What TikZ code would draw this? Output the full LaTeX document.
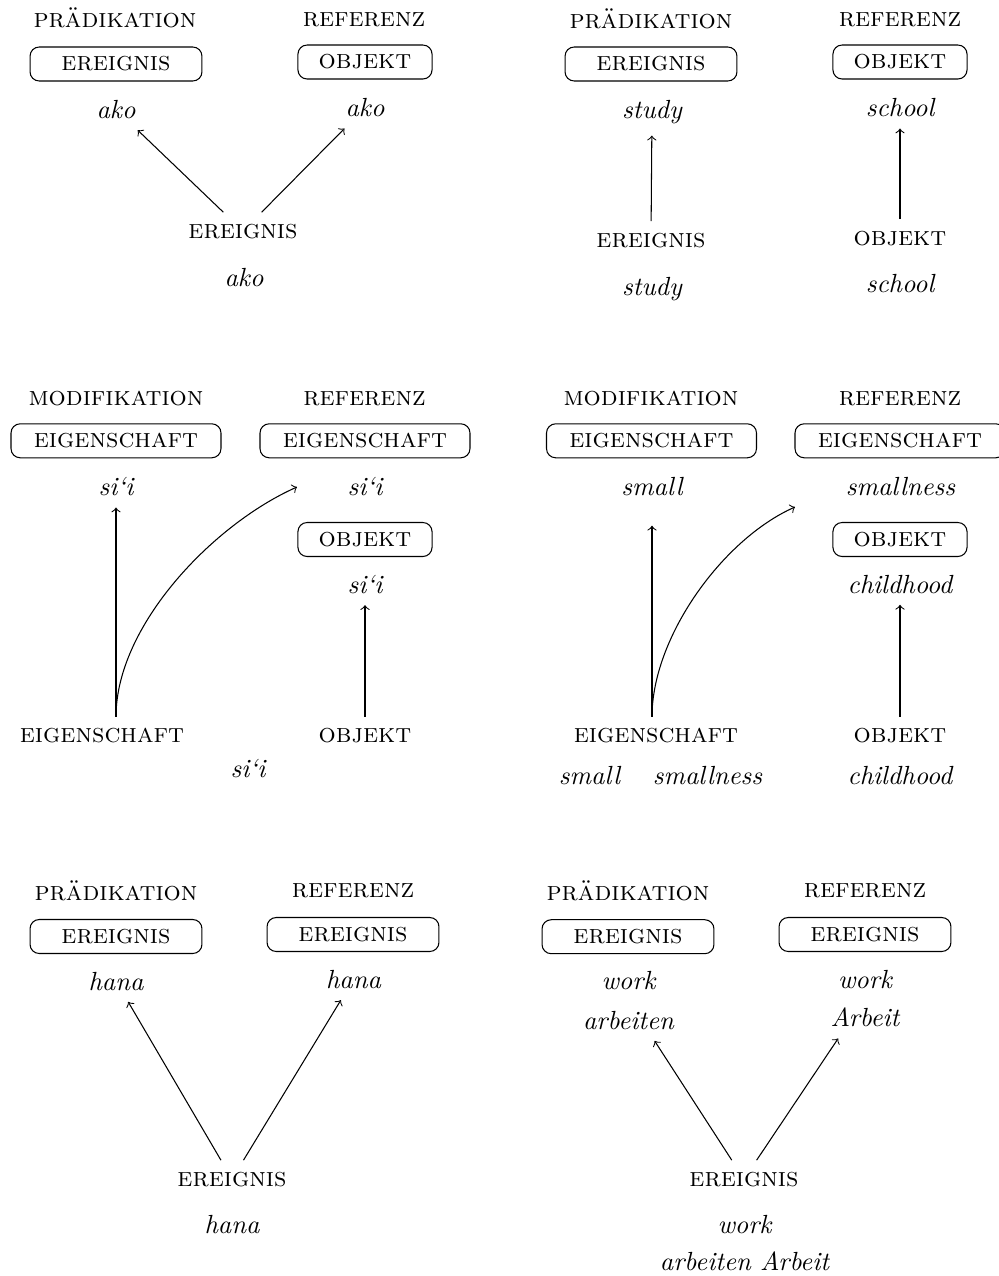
\documentclass[tikz,border=0pt]{standalone}
\usepackage{fontspec}
\begin{document}
\begin{tikzpicture}[x=0.381pt,y=-0.381pt,
  capsfont/.style={font=\fontsize{10.3}{12.4}\selectfont\scshape},
  catlbl/.style={capsfont, anchor=base, inner sep=4.2pt},
  wordlbl/.style={font=\itshape, anchor=base, inner sep=4.2pt},
  wordstack/.style={font=\itshape, align=center, inner sep=4.2pt},
  tagbox/.style={draw, rounded corners=3.5pt, capsfont, inner sep=0pt, minimum height=12.95pt},
  tagE/.style={tagbox, minimum width=65.5pt},
  tagO/.style={tagbox, minimum width=51.1pt},
  tagP/.style={tagbox, minimum width=80pt},
  link/.style={->, line width=0.4pt},
]
\useasboundingbox (0,0) rectangle (999,1276);

% ---- ako ----
\node[catlbl] (a-h1) at (115,27.3) {prädikation};
\node[catlbl] (a-h2) at (364,26.7) {referenz};
\node[tagE] (a-b1) at (116,64) {ereignis};
\node[tagO] (a-b2) at (365,62) {objekt};
\node[wordlbl] (a-w1) at (116,118.3) {ako};
\node[wordlbl] (a-w2) at (365,116.7) {ako};
\node[catlbl] (a-e) at (243,238) {ereignis};
\node[wordlbl] (a-w3) at (244,286) {ako};
\draw[link] (a-e) -- (a-w1);
\draw[link] (a-e) -- (a-w2);

% ---- study / school ----
\node[catlbl] (b-h1) at (651,28) {prädikation};
\node[catlbl] (b-h2) at (900,26.7) {referenz};
\node[tagE] (b-b1) at (651,64) {ereignis};
\node[tagO] (b-b2) at (900,62) {objekt};
\node[wordlbl] (b-w1) at (652,118.7) {study};
\node[wordlbl] (b-w2) at (900,116.7) {school};
\node[catlbl] (b-e1) at (651,247) {ereignis};
\node[catlbl] (b-e2) at (900,245) {objekt};
\node[wordlbl] (b-w3) at (652,295) {study};
\node[wordlbl] (b-w4) at (900,292.7) {school};
\draw[link] (b-e1) -- (b-w1);
\draw[link] (b-e2) -- (b-w2);

% ---- si'i ----
\node[catlbl] (c-h1) at (116,405) {modifikation};
\node[catlbl] (c-h2) at (364.5,405.7) {referenz};
\node[tagP] (c-b1) at (116,440.8) {eigenschaft};
\node[tagP] (c-b2) at (365,440.8) {eigenschaft};
\node[wordlbl] (c-w1) at (116,495.7) {si‘i};
\node[wordlbl] (c-w2) at (365,495.7) {si‘i};
\node[tagO] (c-b3) at (365,539.5) {objekt};
\node[wordlbl] (c-w3) at (365,593.3) {si‘i};
\node[catlbl] (c-e1) at (102,742.7) {eigenschaft};
\node[catlbl] (c-e2) at (365,742.7) {objekt};
\node[wordlbl] (c-w4) at (248,777.3) {si‘i};
\coordinate (c-t) at (297,487);
\draw[link] (c-e1.north -| c-w1) -- (c-w1);
\draw[link] (c-e1.north -| c-w1) .. controls +(0,-91.5) and +(-83.6,37.2) .. (c-t);
\draw[link] (c-e2) -- (c-w3);

% ---- small / smallness / childhood ----
\node[catlbl] (d-h1) at (651,405) {modifikation};
\node[catlbl] (d-h2) at (900,405.7) {referenz};
\node[tagP] (d-b1) at (651.5,440.8) {eigenschaft};
\node[tagP] (d-b2) at (900,440.8) {eigenschaft};
\node[wordlbl] (d-w1) at (652,495) {small};
\node[wordlbl] (d-w2) at (900.5,495) {smallness};
\node[tagO] (d-b3) at (900,539.5) {objekt};
\node[wordlbl] (d-w3) at (900,593) {childhood};
\node[catlbl] (d-e1) at (656,742.7) {eigenschaft};
\node[catlbl] (d-e2) at (900,742.7) {objekt};
\node[wordlbl] (d-w4) at (589.5,784) {small};
\node[wordlbl] (d-w5) at (707.5,784) {smallness};
\node[wordlbl] (d-w6) at (900,784) {childhood};
\coordinate (d-t) at (795,507);
\draw[link, shorten >=7.2pt] (d-e1.north -| d-w1) -- (d-w1);
\draw[link] (d-e1.north -| d-w1) .. controls +(0,-79.5) and +(-72.6,32.3) .. (d-t);
\draw[link] (d-e2) -- (d-w3);

% ---- hana ----
\node[catlbl] (e-h1) at (116,900) {prädikation};
\node[catlbl] (e-h2) at (353,897.3) {referenz};
\node[tagE] (e-b1) at (116,936.5) {ereignis};
\node[tagE] (e-b2) at (353,934.5) {ereignis};
\node[wordlbl] (e-w1) at (116,990) {hana};
\node[wordlbl] (e-w2) at (353.5,988.3) {hana};
\node[catlbl] (e-e) at (232,1186) {ereignis};
\node[wordlbl] (e-w3) at (232,1233.3) {hana};
\draw[link] (e-e) -- (e-w1);
\draw[link] (e-e) -- (e-w2);

% ---- work / arbeiten / Arbeit ----
\node[catlbl] (f-h1) at (628,900) {prädikation};
\node[catlbl] (f-h2) at (865,897.3) {referenz};
\node[tagE] (f-b1) at (628,936.7) {ereignis};
\node[tagE] (f-b2) at (865,934.5) {ereignis};
\node[wordstack] (f-w1) at (628.5,1000.5) {work\\[2.9pt]arbeiten};
\node[wordstack] (f-w2) at (865,998.4) {work\\[2.7pt]Arbeit};
\node[catlbl] (f-e) at (744,1186) {ereignis};
\node[wordlbl] (f-w3) at (744.5,1233.3) {work};
\node[wordlbl] (f-w4) at (744.5,1270) {arbeiten Arbeit};
\draw[link] (f-e) -- (f-w1);
\draw[link] (f-e) -- (f-w2);
\end{tikzpicture}
\end{document}
